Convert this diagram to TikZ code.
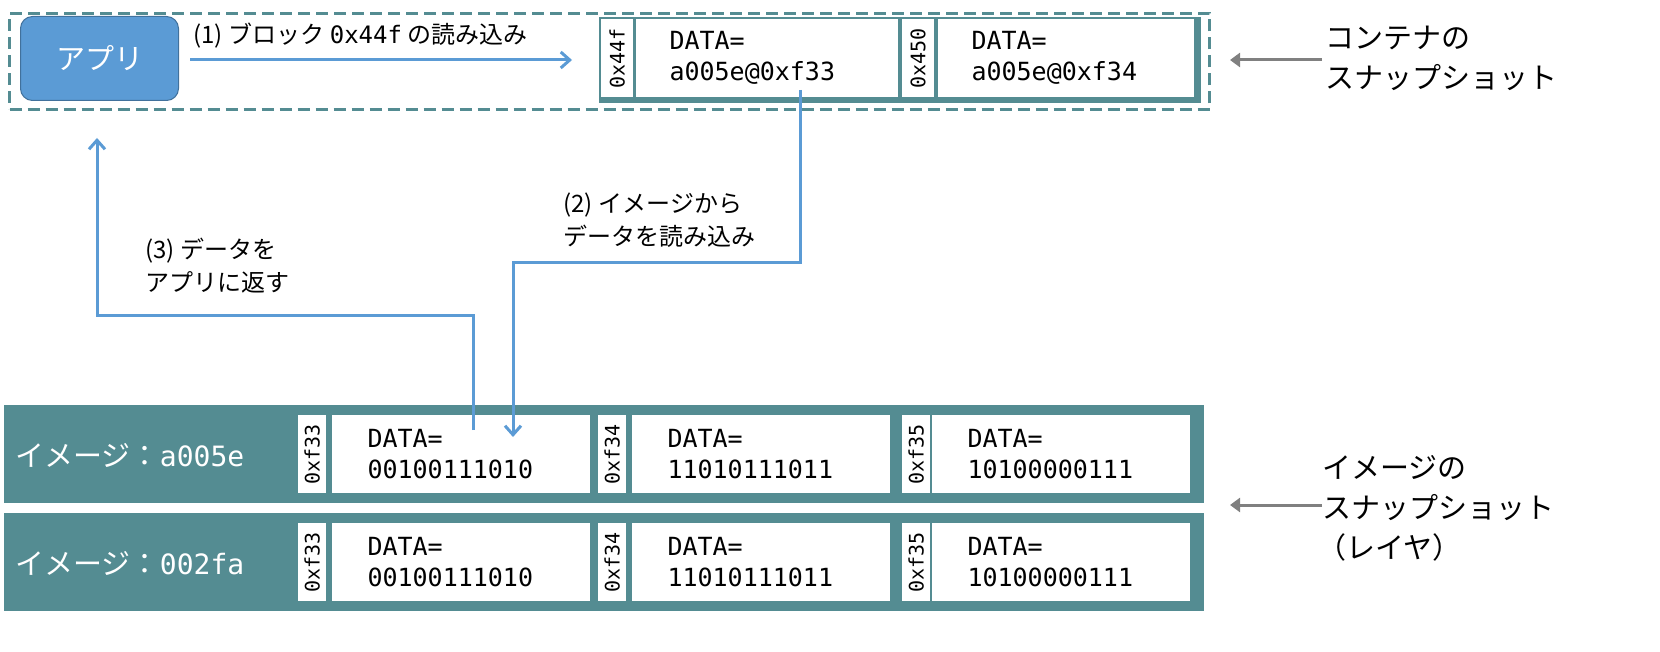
\documentclass[tikz,border=0pt]{standalone}
\usepackage{fontspec}
\setmainfont{Noto Sans CJK JP}
\newfontfamily\mono{DejaVu Sans Mono}
\usetikzlibrary{arrows.meta}
\definecolor{tealc}{HTML}{548C92}
\definecolor{appb}{HTML}{5B9BD5}
\definecolor{appd}{HTML}{41719C}
\begin{document}
\begin{tikzpicture}[x=1pt,y=-1pt,
  cell/.style={draw=none,fill=white,inner sep=0,anchor=north west},
  dtxt/.style={font=\mono\fontsize{25}{31}\selectfont,align=left,anchor=west},
  htxt/.style={font=\mono\fontsize{20}{22}\selectfont,rotate=90},
  flow/.style={draw=appb,line width=3pt,-{Straight Barb[length=9pt,width=16pt,line width=3pt]}},
  gray arr/.style={draw=gray,line width=3pt,-{Triangle[length=10pt,width=14pt]}},
  lbl/.style={font=\fontsize{24}{33}\selectfont,align=left,anchor=west},
  rlbl/.style={font=\fontsize{29}{40}\selectfont,align=left,anchor=west}]
% container
\node[draw=tealc,dashed,dash pattern=on 12pt off 6pt,line width=3pt,minimum width=1200pt,minimum height=96pt,anchor=north west] (cont) at (8,12) {};
\node[draw=appd,fill=appb,rounded corners=12pt,line width=1pt,minimum width=158pt,minimum height=84pt,anchor=north west,text=white,font=\fontsize{29}{32}\selectfont] (app) at (20,16) {アプリ};
\node[draw=tealc,line width=4pt,fill=tealc,minimum width=598pt,minimum height=82pt,anchor=north west] (snap) at (599,17) {};
\node[cell,minimum width=32pt,minimum height=78pt] (h1) at (601,19) {};
\node[htxt] at (h1.center) {0x44f};
\node[cell,minimum width=262pt,minimum height=78pt] (d1) at (636,19) {};
\node[dtxt] at ([xshift=30pt]d1.west) {DATA=\\a005e@0xf33};
\node[cell,minimum width=32pt,minimum height=78pt] (h2) at (902,19) {};
\node[htxt] at (h2.center) {0x450};
\node[cell,minimum width=256pt,minimum height=78pt] (d2) at (938,19) {};
\node[dtxt] at ([xshift=30pt]d2.west) {DATA=\\a005e@0xf34};
% arrow 1
\coordinate (a1s) at (190,60); \coordinate (a1e) at (572,60);
\draw[flow] (a1s) -- (a1e);
\node[lbl,anchor=south west] at (190,52) {(1) ブロック {\mono 0x44f} の読み込み};
% image rows
\foreach \r/\y/\name in {1/405/a005e,2/513/002fa}{
  \node[fill=tealc,minimum width=1200pt,minimum height=98pt,anchor=north west,inner sep=0] (row\r) at (4,\y) {};
  \node[text=white,anchor=west,font=\fontsize{29}{32}\selectfont] at (12,\y+50) {イメージ：{\mono\fontsize{28}{32}\selectfont\name}};
  \foreach \hx/\dx/\dw/\lab/\val in {298/332/258/0xf33/00100111010,598/632/258/0xf34/11010111011,902/932/258/0xf35/10100000111}{
    \node[cell,minimum width=28pt,minimum height=78pt] (h\r\lab) at (\hx,\y+10) {};
    \node[htxt] at (h\r\lab.center) {\lab};
    \node[cell,minimum width=\dw pt,minimum height=78pt] (d\r\lab) at (\dx,\y+10) {};
    \node[dtxt] at ([xshift=32pt]d\r\lab.west) {DATA=\\\val};
  }
}
% arrow 2
\coordinate (a2s) at (800,90); \coordinate (a2e) at (513,437);
\draw[flow] (a2s) |- (656,263) -| (a2e);
\node[lbl] at (560,220) {(2) イメージから\\データを読み込み};
% arrow 3
\coordinate (a3s) at (473,430); \coordinate (a3e) at (97,138);
\draw[flow] (a3s) |- (300,316) -| (a3e);
\node[lbl] at (142,266) {(3) データを\\アプリに返す};
% right labels
\coordinate (g1s) at (1322,60); \coordinate (g1e) at (1230,60);
\draw[gray arr] (g1s) -- (g1e);
\node[rlbl] (r1) at (1322,58) {コンテナの\\スナップショット};
\coordinate (g2s) at (1322,505); \coordinate (g2e) at (1230,505);
\draw[gray arr] (g2s) -- (g2e);
\node[rlbl] (r2) at (1314,508) {\,イメージの\\\,スナップショット\\（レイヤ）};
\pgfresetboundingbox
\useasboundingbox (0,0) rectangle (1660,652);
\end{tikzpicture}
\end{document}
